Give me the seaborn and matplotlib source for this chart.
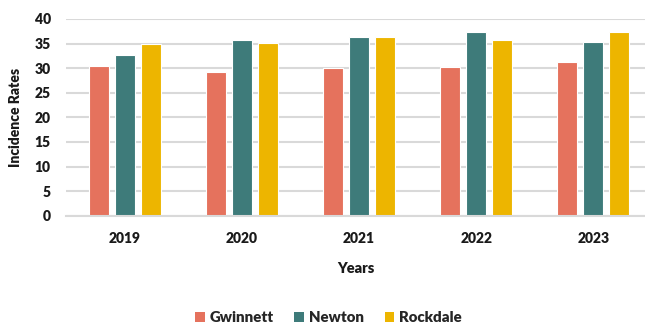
import matplotlib
matplotlib.use("Agg")
import matplotlib.pyplot as plt
import seaborn as sns
import pandas as pd
from matplotlib.patches import Patch

years = ["2019", "2020", "2021", "2022", "2023"]
gwinnett = [30.5, 29.3, 30.1, 30.3, 31.2]
newton = [32.7, 35.8, 36.4, 37.3, 35.4]
rockdale = [35.0, 35.2, 36.4, 35.8, 37.3]
counties = ["Gwinnett", "Newton", "Rockdale"]
colors = ["#E5725D", "#3E7B7A", "#EDB500"]

rows = []
for c, vals in zip(counties, [gwinnett, newton, rockdale]):
    for y, v in zip(years, vals):
        rows.append({"Year": y, "County": c, "Rate": v})
df = pd.DataFrame(rows)

sns.set_theme(style="white")
plt.rcParams["font.family"] = ["Lato", "DejaVu Sans"]

fig = plt.figure(figsize=(6.45, 3.25), dpi=100)
ax = fig.add_axes([66/645, 1 - 215.7/325, 1 - 66/645, (215.7 - 19)/325])

sns.barplot(data=df, x="Year", y="Rate", hue="County", palette=colors,
            order=years, hue_order=counties, width=0.666, gap=0.23,
            saturation=1, edgecolor="white", linewidth=0.8, ax=ax, legend=False)

W = "heavy"
TC = "#1a1a1a"
ax.set_ylim(0, 40)
ax.set_yticks(range(0, 41, 5))
ax.set_xlim(-0.5, 4.44)
ax.yaxis.grid(True, color="#D9D9D9", linewidth=1.5)
ax.set_axisbelow(True)
for s in ["top", "right", "left"]:
    ax.spines[s].set_visible(False)
ax.spines["bottom"].set_color("#D9D9D9")
ax.spines["bottom"].set_linewidth(1.5)
ax.tick_params(axis="y", length=0, pad=11, labelsize=10)
ax.tick_params(axis="x", length=0, pad=12, labelsize=10)
for lab in ax.get_xticklabels() + ax.get_yticklabels():
    lab.set_fontweight(W)
    lab.set_color(TC)

ax.set_ylabel("Incidence Rates", fontsize=10, fontweight=W, color=TC, labelpad=9)
ax.set_xlabel("Years", fontsize=10.5, fontweight=W, color=TC, labelpad=12)

handles = [Patch(facecolor=c, edgecolor="none") for c in colors]
fig.legend(handles, counties, loc="center", bbox_to_anchor=(0.509, 1 - 318/325),
           ncol=3, frameon=False, handlelength=0.65, handleheight=0.65,
           handletextpad=0.3, columnspacing=1.4,
           prop={"weight": W, "size": 10.8})

fig.savefig("out.png", dpi=100)
